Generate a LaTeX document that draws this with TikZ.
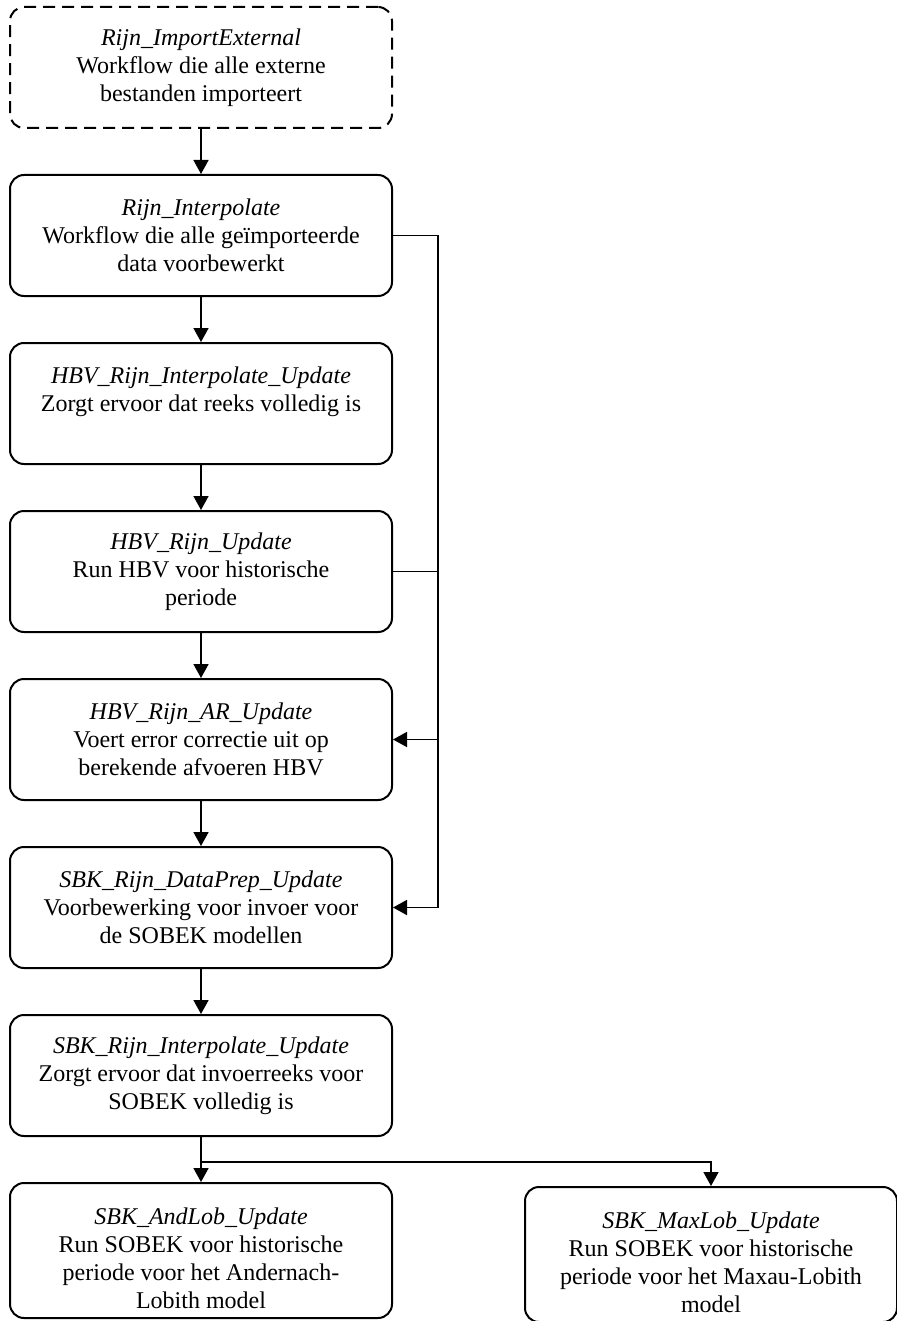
\documentclass[tikz,border=0pt]{standalone}
\usepackage{fontspec}
\setmainfont{Liberation Serif}
\usetikzlibrary{arrows.meta}
\begin{document}
\begin{tikzpicture}[x=0.5pt,y=-0.5pt,
    flow/.style={draw, line width=1pt, rounded corners=7pt, minimum width=191pt,
      minimum height=60.5pt, align=center, font=\fontsize{12}{14}\selectfont},
    link/.style={line width=0.8pt, -{Triangle[length=7pt,width=7.5pt]}}]
  \clip (0,0) rectangle (897,1321);
  \node[flow, dash pattern=on 6pt off 3.5pt] (importext) at (201,67.5)
    {\textit{Rijn\_ImportExternal}\\Workflow die alle externe\\bestanden importeert};
  \node[flow] (interp) at (201,235.5)
    {\textit{Rijn\_Interpolate}\\Workflow die alle geïmporteerde\\data voorbewerkt};
  \node[flow] (hbvinterp) at (201,403.5)
    {\textit{HBV\_Rijn\_Interpolate\_Update}\\Zorgt ervoor dat reeks volledig is\\~};
  \node[flow] (hbvupd) at (201,571.5)
    {\textit{HBV\_Rijn\_Update}\\Run HBV voor historische\\periode};
  \node[flow] (hbvar) at (201,739.5)
    {\textit{HBV\_Rijn\_AR\_Update}\\Voert error correctie uit op\\berekende afvoeren HBV};
  \node[flow] (dataprep) at (201,907.5)
    {\textit{SBK\_Rijn\_DataPrep\_Update}\\Voorbewerking voor invoer voor\\de SOBEK modellen};
  \node[flow] (sbkinterp) at (201,1075.5)
    {\textit{SBK\_Rijn\_Interpolate\_Update}\\Zorgt ervoor dat invoerreeks voor\\SOBEK volledig is};
  \node[flow, minimum height=67.5pt] (andlob) at (201,1250.5)
    {\rule{0pt}{16pt}\textit{SBK\_AndLob\_Update}\\Run SOBEK voor historische\\periode voor het Andernach-\\Lobith model};
  \node[flow, minimum height=67.5pt, minimum width=186pt] (maxlob) at (711,1254.5)
    {\rule{0pt}{16pt}\textit{SBK\_MaxLob\_Update}\\Run SOBEK voor historische\\periode voor het Maxau-Lobith\\model};
  \coordinate (bus) at (438,0);
  \coordinate (split) at (201,1162);
  \draw[link] (importext) -- (interp);
  \draw[link] (interp) -- (hbvinterp);
  \draw[link] (hbvinterp) -- (hbvupd);
  \draw[link] (hbvupd) -- (hbvar);
  \draw[link] (hbvar) -- (dataprep);
  \draw[link] (dataprep) -- (sbkinterp);
  \draw[link] (sbkinterp) -- (andlob);
  \draw[link] (split) -| (maxlob.north);
  \draw[link] (interp.east) -- (interp.east -| bus) |- (dataprep.east);
  \draw[link] (hbvupd.east) -- (hbvupd.east -| bus) |- (hbvar.east);
\end{tikzpicture}
\end{document}
